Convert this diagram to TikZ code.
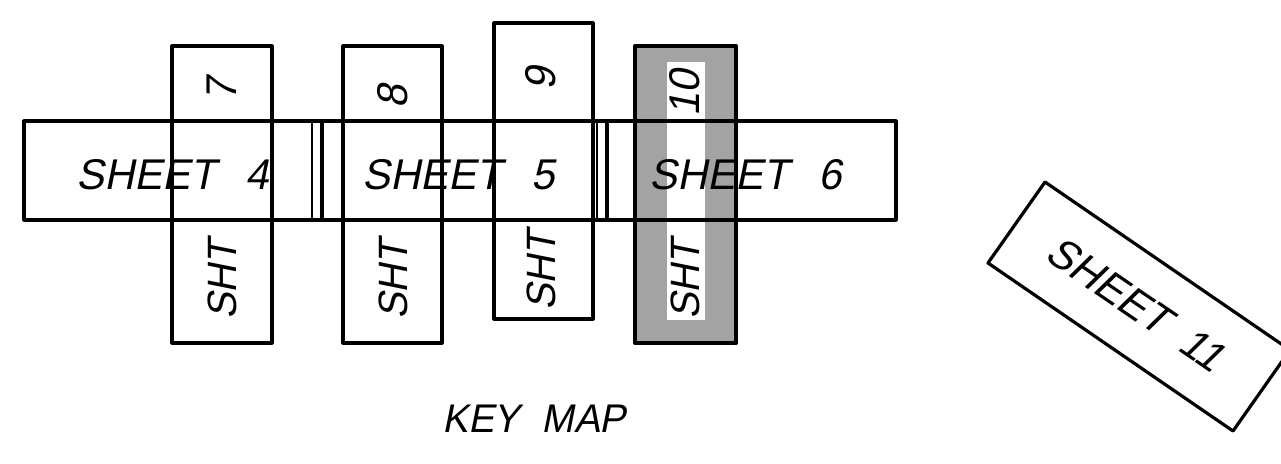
\documentclass[tikz,border=0pt]{standalone}
\usepackage{fontspec}
\newfontfamily\lbl[FakeSlant=0.2,FakeStretch=0.97]{Liberation Sans}
\definecolor{shadegray}{gray}{0.64}
\tikzset{
  x=1pt,y=-1pt,
  sheetline/.style={draw=black,line width=3.2pt,line join=round},
  heavyline/.style={draw=black,line width=4.4pt,line join=round},
  lbl/.style={font=\lbl\fontsize{43}{43}\selectfont,inner sep=0pt,anchor=center,text=black},
  shtl/.style={lbl,rotate=90},
  shtword/.style={font=\lbl\fontsize{41}{41}\selectfont,inner sep=0pt,anchor=center,text=black,rotate=90},
  keyword/.style={font=\lbl\fontsize{40}{40}\selectfont,inner sep=0pt,anchor=center,text=black},
}
\begin{document}
\begin{tikzpicture}
\useasboundingbox (0,0) rectangle (1281,463);
\clip (0,0) rectangle (1281,463);
\fill[white] (0,0) rectangle (1281,463);
% shaded sheet 10
\fill[shadegray] (635,46) rectangle (736,343);
\fill[white] (667,62) rectangle (705,320);
% strips
\draw[sheetline] (172,46) rectangle (272,343);
\draw[sheetline] (343,46) rectangle (442,343);
\draw[sheetline] (494,23) rectangle (593,319);
\draw[heavyline] (635,46) rectangle (736,343);
% band
\draw[sheetline] (24,121) rectangle (896,220);
\draw[line width=2.4pt] (312,121) -- (312,220);
\draw[line width=3.2pt] (322,121) -- (322,220);
\draw[line width=2.4pt] (597,121) -- (597,220);
\draw[line width=3.2pt] (607,121) -- (607,220);
% rotated
\draw[sheetline] (1045,182) -- (1290,350) -- (1233,431) -- (988,263) -- cycle;
% labels
\node[lbl] (s4) at (173,175) {SHEET\hspace{0.7em}4};
\node[lbl] (s5) at (459,175) {SHEET\hspace{0.7em}5};
\node[lbl] (s6) at (746,175) {SHEET\hspace{0.7em}6};
\node[lbl,rotate=-34.4] (s11) at (1136,304) {SHEET\hspace{0.5em}11};
\node[shtl] (n7) at (222,90) {7};
\node[shtl] (n8) at (393,97) {8};
\node[shtl] (n9) at (541,79) {9};
\node[shtl] (n10) at (685,93) {10};
\node[shtword] (a) at (222,280) {SHT};
\node[shtword] (b) at (393,280) {SHT};
\node[shtword] (c) at (541,271) {SHT};
\node[shtword] (d) at (685,280) {SHT};
\node[keyword] (key) at (534,419) {KEY\hspace{0.55em}MAP};
\end{tikzpicture}
\end{document}
